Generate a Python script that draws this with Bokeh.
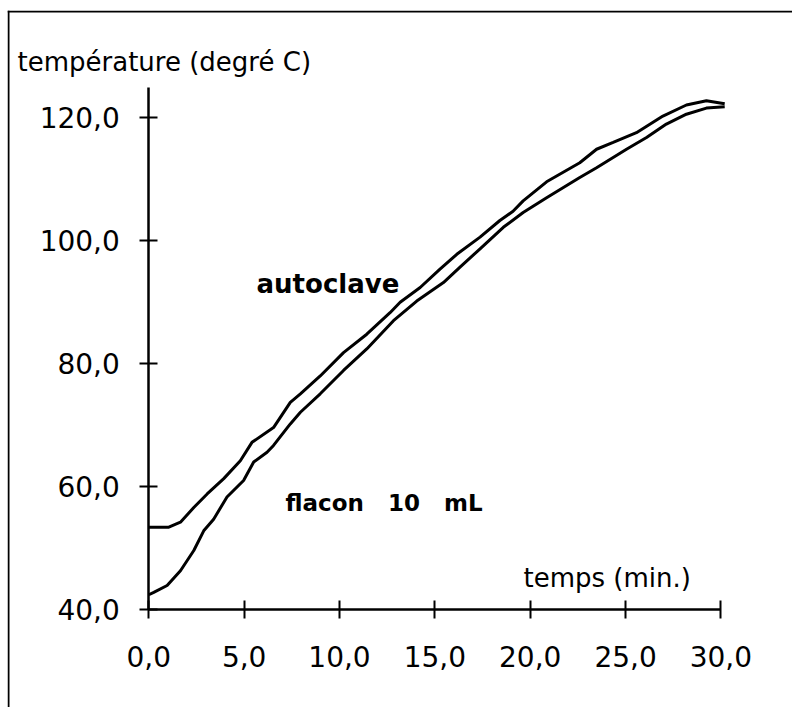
from bokeh.plotting import figure
from bokeh.models import Range1d, FixedTicker, Label, LinearAxis, Span
from bokeh.embed import file_html
from bokeh.resources import INLINE

# ---- data ----
autoclave_t = [0.0, 1.05, 1.66, 2.36, 3.06, 3.93, 4.80, 5.41, 6.54, 7.42, 7.95, 8.99,
               10.21, 11.43, 12.65, 13.18, 14.23, 15.27, 16.15, 17.37, 18.41, 19.1,
               19.63, 20.86, 22.6, 23.48, 24.35, 25.57, 26.96, 28.19, 29.24, 30.2]
autoclave_v = [53.4, 53.4, 54.2, 56.6, 58.8, 61.3, 64.2, 67.2, 69.6, 73.7, 75.1, 78.0,
               81.8, 84.8, 88.3, 90.0, 92.4, 95.4, 97.8, 100.6, 103.3, 104.8,
               106.5, 109.6, 112.7, 114.9, 116.0, 117.6, 120.3, 122.1, 122.8, 122.3]

flacon_t = [0.0, 0.26, 0.96, 1.66, 2.36, 2.88, 3.40, 4.10, 4.97, 5.50, 6.2, 6.54, 7.42,
            7.95, 8.99, 10.21, 11.43, 12.83, 14.05, 15.45, 16.32, 17.37, 18.59, 19.63,
            20.86, 22.6, 23.48, 25.05, 26.1, 27.14, 28.19, 29.24, 30.2]
flacon_v = [42.4, 42.8, 43.9, 46.3, 49.6, 52.8, 54.7, 58.3, 61.0, 64.0, 65.6, 66.7, 70.2,
            72.1, 75.1, 78.9, 82.4, 87.0, 90.2, 93.2, 95.7, 98.7, 102.2, 104.6,
            107.0, 110.3, 111.9, 114.9, 116.8, 119.0, 120.6, 121.6, 121.8]

x_ticks = [0, 5, 10, 15, 20, 25, 30]
x_tick_labels = ["0,0", "5,0", "10,0", "15,0", "20,0", "25,0", "30,0"]
y_ticks = [40, 60, 80, 100, 120]
y_tick_labels = ["40,0", "60,0", "80,0", "100,0", "120,0"]

y_title = "température (degré C)"
x_title = "temps (min.)"
label_autoclave = "autoclave"
label_flacon = "flacon\u00a0\u00a0 10\u00a0\u00a0 mL"

FONT = "DejaVu Sans"

# ---- layout: canvas and scale ----
W, H = 792, 707
FRAME_L, FRAME_T = 7, 10          # frame starts at the border lines of the page box
X0_PX, X_PPU = 148.3, 19.07       # pixel of t=0, pixels per minute
Y40_PX, Y_PPU = 609.0, 6.145      # pixel of 40 degrees, pixels per degree

x_start = (FRAME_L - X0_PX) / X_PPU
x_end = (W - X0_PX) / X_PPU
y_end = 40 + (Y40_PX - FRAME_T) / Y_PPU
y_start = 40 - (H - Y40_PX) / Y_PPU

p = figure(width=W, height=H, output_backend="svg", toolbar_location=None,
           x_range=Range1d(x_start, x_end), y_range=Range1d(y_start, y_end),
           x_axis_location=None, y_axis_location=None,
           min_border_left=FRAME_L, min_border_top=FRAME_T,
           min_border_right=0, min_border_bottom=0)

p.grid.visible = False
p.outline_line_color = None
p.background_fill_color = "white"
p.border_fill_color = "white"

xaxis = LinearAxis(fixed_location=40, bounds=(0, 30))
yaxis = LinearAxis(fixed_location=0, bounds=(40, 125))
for ax in (xaxis, yaxis):
    ax.axis_line_width = 2.5
    ax.axis_line_color = "black"
    ax.major_tick_line_width = 2
    ax.major_tick_line_color = "black"
    ax.major_tick_in = 9
    ax.major_tick_out = 9
    ax.minor_tick_line_color = None
    ax.major_label_text_font = FONT
    ax.major_label_text_font_size = "28px"
    ax.major_label_text_color = "black"

xaxis.ticker = FixedTicker(ticks=x_ticks)
xaxis.major_label_overrides = dict(zip(x_ticks, x_tick_labels))
xaxis.major_label_standoff = 27
yaxis.ticker = FixedTicker(ticks=y_ticks)
yaxis.major_label_overrides = dict(zip(y_ticks, y_tick_labels))
yaxis.major_label_standoff = 20
p.add_layout(xaxis, "below")
p.add_layout(yaxis, "left")

# page box border (left and top edges)
p.add_layout(Span(location=x_start + 1.0 / X_PPU, dimension="height",
                  line_color="black", line_width=2))
p.add_layout(Span(location=y_end - 1.0 / Y_PPU, dimension="width",
                  line_color="black", line_width=2))

p.line(autoclave_t, autoclave_v, line_color="black", line_width=3)
p.line(flacon_t, flacon_v, line_color="black", line_width=3)

p.add_layout(Label(x=-6.885, y=129.1, text=y_title, text_font=FONT,
                   text_font_size="26px", text_align="left",
                   text_baseline="alphabetic", text_color="black"))
p.add_layout(Label(x=19.65, y=45.2, text=x_title, text_font=FONT,
                   text_font_size="26px", text_align="left",
                   text_baseline="alphabetic", text_color="black"))
p.add_layout(Label(x=5.65, y=92.9, text=label_autoclave, text_font=FONT,
                   text_font_size="26px", text_font_style="bold", text_align="left",
                   text_baseline="alphabetic", text_color="black"))
p.add_layout(Label(x=7.17, y=57.3, text=label_flacon, text_font=FONT,
                   text_font_size="23px", text_font_style="bold", text_align="left",
                   text_baseline="alphabetic", text_color="black"))

open("out.html", "w").write(file_html(p, INLINE))
